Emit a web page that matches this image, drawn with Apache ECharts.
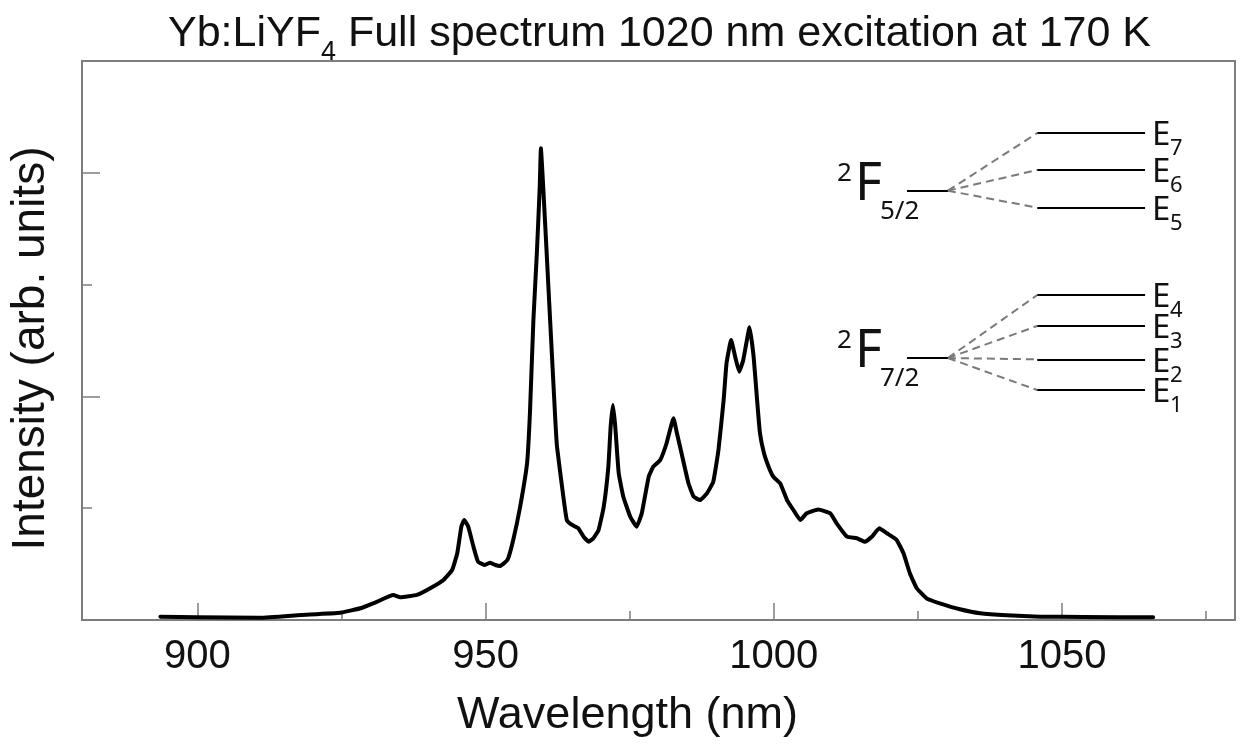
<!DOCTYPE html>
<html>
<head>
<meta charset="utf-8">
<script src="https://cdn.jsdelivr.net/npm/echarts@6/dist/echarts.min.js"></script>
<style>
  html, body { margin: 0; padding: 0; background: #fff; }
  #chart { width: 1244px; height: 751px; }
</style>
</head>
<body>
<div id="chart"></div>
<script>
// Emission spectrum of Yb:LiYF4 (wavelength in nm, intensity in arb. units)
const wavelength = [
  893.6, 900.0, 910.9, 917.9, 924.8, 928.3, 931.2, 934.0, 935.2, 938.1,
  940.4, 942.7, 944.2, 945.1, 945.8, 946.3, 947.0, 947.9, 948.7, 949.9,
  950.8, 951.7, 952.5, 953.8, 954.8, 956.0, 957.2, 957.7, 958.3, 958.9,
  959.4, 959.6, 960.0, 960.6, 961.2, 962.1, 962.4, 963.5, 964.1, 965.0,
  966.1, 967.0, 967.9, 968.7, 969.6, 970.5, 971.3, 971.7, 972.1, 972.5,
  973.1, 973.9, 975.1, 976.2, 977.1, 978.3, 979.1, 980.3, 981.4, 982.6,
  983.2, 984.0, 985.2, 986.1, 987.2, 988.4, 989.5, 990.4, 991.3, 991.8,
  992.6, 993.3, 994.0, 994.7, 995.8, 996.5, 997.1, 997.6, 998.3, 999.1,
  999.9, 1001.1, 1002.3, 1003.4, 1004.6, 1005.7, 1007.7, 1009.8, 1010.9, 1012.7,
  1014.4, 1015.8, 1017.0, 1018.3, 1019.6, 1021.3, 1022.5, 1023.6, 1024.8, 1026.5,
  1028.8, 1032.3, 1035.8, 1040.4, 1046.2, 1053.7, 1065.8
];
const intensity = [
  0.030, 0.024, 0.021, 0.045, 0.065, 0.105, 0.164, 0.224, 0.203, 0.224,
  0.284, 0.358, 0.447, 0.599, 0.835, 0.894, 0.835, 0.656, 0.521, 0.492,
  0.513, 0.492, 0.483, 0.537, 0.716, 1.013, 1.402, 1.852, 2.683, 3.283,
  3.876, 4.219, 3.876, 3.283, 2.683, 1.789, 1.547, 1.100, 0.894, 0.850,
  0.820, 0.745, 0.700, 0.731, 0.805, 1.013, 1.371, 1.729, 1.923, 1.729,
  1.312, 1.103, 0.924, 0.835, 0.954, 1.282, 1.371, 1.431, 1.581, 1.804,
  1.670, 1.491, 1.223, 1.103, 1.073, 1.133, 1.237, 1.521, 1.968, 2.296,
  2.504, 2.355, 2.221, 2.326, 2.618, 2.355, 1.968, 1.670, 1.491, 1.371,
  1.282, 1.223, 1.073, 0.984, 0.894, 0.954, 0.988, 0.954, 0.865, 0.745,
  0.731, 0.700, 0.745, 0.820, 0.776, 0.716, 0.597, 0.418, 0.284, 0.194,
  0.149, 0.096, 0.060, 0.042, 0.030, 0.027, 0.024
];

// Axis ticks
const xMajorTicks = [900, 950, 1000, 1050];
const xMinorTicks = [925, 975, 1025, 1075];

// Crystal-field level scheme (drawn in data space)
const manifoldNames = ['5/2', '7/2'];
const manifoldLevel = [3.840, 2.343];
const sublevelNames = [['7', '6', '5'], ['4', '3', '2', '1']];
const sublevelEnergy = [[4.356, 4.025, 3.688], [2.907, 2.630, 2.332, 2.057]];
const manifoldSpan = [1023.1, 1030.2];
const sublevelSpan = [1045.7, 1064.4];

const points = wavelength.map((w, i) => [w, intensity[i]]);

const solidSegments = [];
const dashedSegments = [];
manifoldLevel.forEach((y0, g) => {
  solidSegments.push({ coords: [[manifoldSpan[0], y0], [manifoldSpan[1], y0]] });
  sublevelEnergy[g].forEach(e => {
    dashedSegments.push({ coords: [[manifoldSpan[1], y0], [sublevelSpan[0], e]] });
    solidSegments.push({ coords: [[sublevelSpan[0], e], [sublevelSpan[1], e]] });
  });
});

const AXIS_GRAY = '#7d7d7d';
const chart = echarts.init(document.getElementById('chart'), null, { renderer: 'canvas' });

const option = {
  backgroundColor: '#fff',
  animation: false,
  title: {
    text: 'Yb:LiYF{sub|4} Full spectrum 1020 nm excitation at 170 K',
    left: 168,
    top: 3,
    padding: 0,
    textStyle: {
      fontFamily: 'Liberation Sans',
      fontSize: 43,
      fontWeight: 'normal',
      color: '#111',
      rich: {
        sub: { fontFamily: 'Liberation Sans', fontSize: 27, color: '#111', padding: [36, 0, 0, 0] }
      }
    }
  },
  grid: {
    left: 82, right: 9, top: 61, bottom: 131,
    show: true, borderColor: AXIS_GRAY, borderWidth: 2, backgroundColor: 'transparent'
  },
  xAxis: [
    {
      type: 'value', min: 880, max: 1080,
      name: 'Wavelength (nm)', nameLocation: 'middle', nameGap: 73,
      nameTextStyle: { fontFamily: 'Liberation Sans', fontSize: 45, color: '#111', padding: [0, 62, 0, 0] },
      axisLine: { show: true, lineStyle: { color: AXIS_GRAY, width: 2 } },
      axisTick: { show: true, inside: true, length: 17, customValues: xMajorTicks, lineStyle: { color: AXIS_GRAY, width: 1.5 } },
      axisLabel: {
        show: true, customValues: xMajorTicks, margin: 17,
        formatter: v => String(v),
        fontFamily: 'Liberation Sans', fontSize: 40, color: '#111'
      },
      splitLine: { show: false }
    },
    {
      type: 'value', min: 880, max: 1080, position: 'bottom',
      axisLine: { show: false },
      axisTick: { show: true, inside: true, length: 9, customValues: xMinorTicks, lineStyle: { color: AXIS_GRAY, width: 1.5 } },
      axisLabel: { show: false },
      splitLine: { show: false }
    }
  ],
  yAxis: {
    type: 'value', min: 0, max: 5, interval: 2,
    name: 'Intensity (arb. units)', nameLocation: 'middle', nameGap: 28,
    nameTextStyle: { fontFamily: 'Liberation Sans', fontSize: 46, color: '#111', padding: [0, 16, 0, 0] },
    axisLine: { show: true, lineStyle: { color: AXIS_GRAY, width: 2 } },
    axisTick: { show: true, inside: true, length: 18, lineStyle: { color: AXIS_GRAY, width: 1.5 } },
    minorTick: { show: true, splitNumber: 2, length: 10, lineStyle: { color: AXIS_GRAY, width: 1.5 } },
    axisLabel: { show: false },
    splitLine: { show: false },
    minorSplitLine: { show: false }
  },
  series: [
    {
      type: 'line',
      data: points,
      showSymbol: false,
      smooth: 0.12,
      lineStyle: { color: '#000', width: 4, join: 'round', cap: 'round' },
      z: 3
    },
    {
      type: 'lines',
      coordinateSystem: 'cartesian2d',
      data: dashedSegments,
      lineStyle: { color: '#7a7a7a', width: 2, type: [8, 5], opacity: 1 },
      z: 4
    },
    {
      type: 'lines',
      coordinateSystem: 'cartesian2d',
      data: solidSegments,
      lineStyle: { color: '#000', width: 2, type: 'solid', opacity: 1 },
      z: 4
    }
  ]
};
chart.setOption(option);

// Term symbols and sublevel labels, placed next to the level lines
const LABEL_FONT = '"Noto Sans", "Open Sans", sans-serif';
const toPx = p => chart.convertToPixel({ xAxisIndex: 0, yAxisIndex: 0 }, p);
const texts = [];
const addText = (text, x, y, size) => texts.push({
  type: 'text', x: x, y: y, z: 10,
  style: { text: text, font: size + 'px ' + LABEL_FONT, fill: '#111', align: 'left', verticalAlign: 'middle' }
});
manifoldLevel.forEach((y0, g) => {
  const [lx, ly] = toPx([manifoldSpan[0], y0]);
  addText('2', lx - 70, ly - 17, 26);
  addText('F', lx - 52, ly - 6, 52);
  addText(manifoldNames[g], lx - 27, ly + 21, 26);
  sublevelEnergy[g].forEach((e, k) => {
    const [rx, ry] = toPx([sublevelSpan[1], e]);
    addText('E', rx + 7, ry + 3, 33);
    addText(sublevelNames[g][k], rx + 25, ry + 16, 22);
  });
});
chart.setOption({ graphic: texts });
</script>
</body>
</html>
